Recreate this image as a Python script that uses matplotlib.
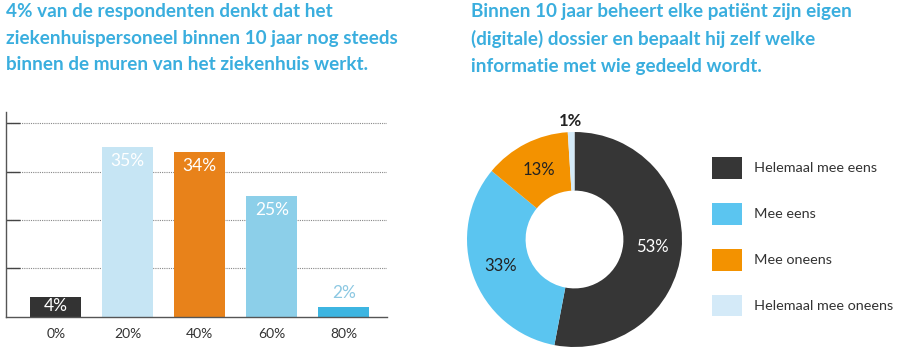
import matplotlib
matplotlib.use("Agg")
import matplotlib.pyplot as plt
import numpy as np

plt.rcParams['font.family'] = ['Lato', 'DejaVu Sans']

# data
bar_labels = ['0%', '20%', '40%', '60%', '80%']
bar_values = [4, 35, 34, 25, 2]
donut_labels = ['Helemaal mee eens', 'Mee eens', 'Mee oneens', 'Helemaal mee oneens']
donut_values = [53, 33, 13, 1]

title_left = ("4% van de respondenten denkt dat het\n"
              "ziekenhuispersoneel binnen 10 jaar nog steeds\n"
              "binnen de muren van het ziekenhuis werkt.")
title_right = ("Binnen 10 jaar beheert elke patiënt zijn eigen\n"
               "(digitale) dossier en bepaalt hij zelf welke\n"
               "informatie met wie gedeeld wordt.")

bar_colors = ['#333333', '#c6e5f4', '#e8821a', '#8ccfe9', '#3db5e1']
bar_text_colors = ['white', 'white', 'white', 'white', '#8cc8e2']
bar_text_offsets = [-6.5, -10, -10, -10, 10]  # points from bar top
donut_colors = ['#363636', '#5bc5f0', '#f39200', '#d4eaf8']
donut_text_colors = ['white', '#222222', '#222222', '#222222']
blue = '#3aaede'

W, H = 900, 356
fig = plt.figure(figsize=(9, 3.56), dpi=100)

def px_axes(x0, y0, x1, y1):
    # pixel box (top-left origin) -> figure axes
    return fig.add_axes([x0 / W, (H - y1) / H, (x1 - x0) / W, (y1 - y0) / H])

fig.text(6 / W, 1 - 3 / H, title_left, color=blue, fontsize=13.6, fontweight='bold',
         va='top', ha='left', linespacing=1.68)
fig.text(471 / W, 1 - 3 / H, title_right, color=blue, fontsize=13.6, fontweight='bold',
         va='top', ha='left', linespacing=1.68)

# bar chart
ax = px_axes(6, 111.7, 387, 316.7)
x = np.arange(len(bar_values))
bars = ax.bar(x, bar_values, width=0.71, color=bar_colors)
ax.set_xlim(-0.69, 4.6)
ax.set_ylim(0, 205 / 4.84)
ax.set_yticks([10, 20, 30, 40])
ax.set_yticklabels([])
ax.tick_params(axis='y', direction='in', length=10, width=1, color='#444444')
ax.set_xticks(x)
ax.set_xticklabels(bar_labels, fontsize=10, color='#333333')
ax.tick_params(axis='x', length=0, pad=8)
ax.grid(axis='y', linestyle=(0, (1, 1)), color='#888888', linewidth=0.8)
ax.set_axisbelow(True)
for s in ['top', 'right']:
    ax.spines[s].set_visible(False)
for s in ['left', 'bottom']:
    ax.spines[s].set_color('#555555')
    ax.spines[s].set_linewidth(1)
for i, b in enumerate(bars):
    ax.annotate(f'{bar_values[i]}%', (b.get_x() + b.get_width() / 2, b.get_height()),
                xytext=(0, bar_text_offsets[i]), textcoords='offset points',
                ha='center', va='center', fontsize=12.5, color=bar_text_colors[i])

# donut chart
ax2 = px_axes(467, 132, 682, 347)
wedges, _ = ax2.pie(donut_values, colors=donut_colors, startangle=90, counterclock=False,
                    radius=1, wedgeprops=dict(width=0.545, edgecolor='none'))
ax2.set_xlim(-1, 1)
ax2.set_ylim(-1, 1)
ax2.set_aspect('equal')
for i, w in enumerate(wedges):
    ang = np.deg2rad((w.theta1 + w.theta2) / 2)
    r = 0.73 if donut_values[i] > 5 else 1.1
    ax2.text(r * np.cos(ang), r * np.sin(ang), f'{donut_values[i]}%',
             ha='center', va='center', fontsize=12,
             fontweight='bold' if donut_values[i] <= 5 else 'normal',
             color=donut_text_colors[i])

fig.legend(wedges, donut_labels, loc='upper left', bbox_to_anchor=(711.7 / W, (H - 157) / H),
           frameon=False, fontsize=10.4, handlelength=2.08, handleheight=1.94,
           labelspacing=1.67, handletextpad=0.85, borderpad=0, borderaxespad=0,
           labelcolor='#333333')

fig.savefig('out.png', dpi=100)
